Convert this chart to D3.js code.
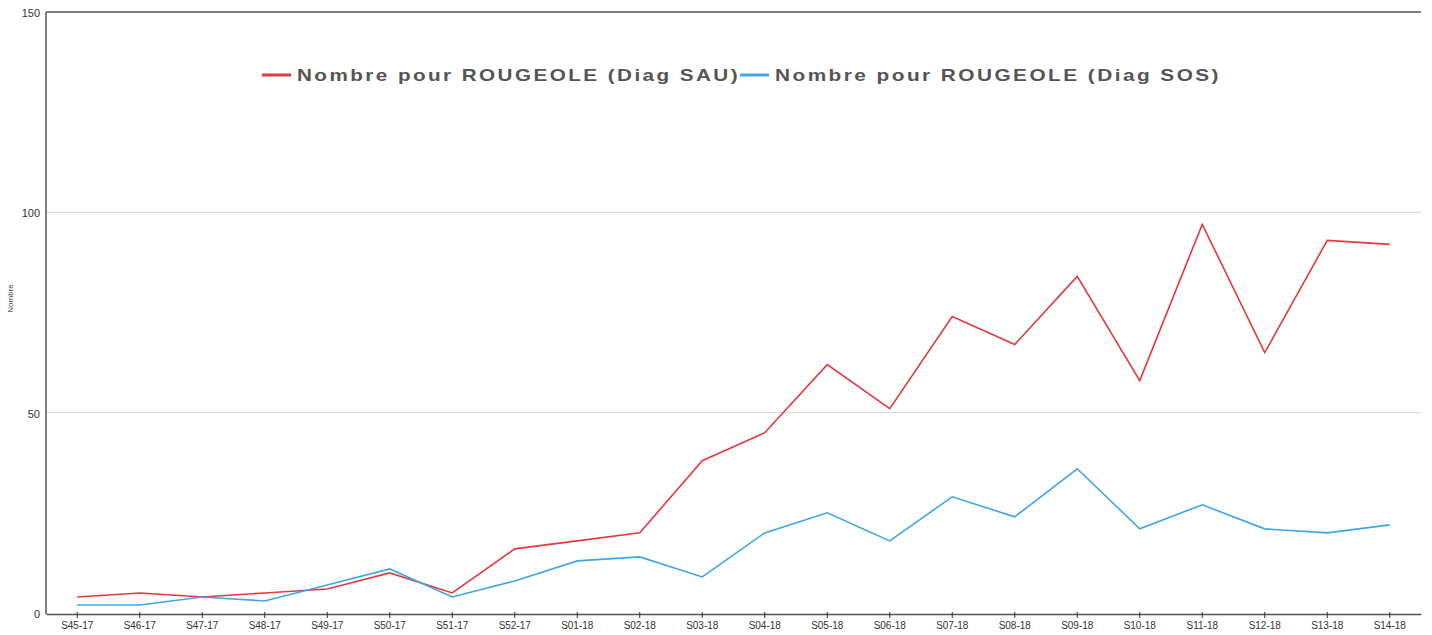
<!DOCTYPE html>
<html>
<head>
<meta charset="utf-8">
<script src="https://cdn.jsdelivr.net/npm/d3@7"></script>
<style>
  body { margin: 0; background: #fff; }
  svg { display: block; font-family: "Liberation Sans", Arial, sans-serif; }
</style>
</head>
<body>
<svg id="mychart" width="1432" height="635"></svg>
<script>
// weeks on the x axis
const weeks = ["S45-17", "S46-17", "S47-17", "S48-17", "S49-17", "S50-17", "S51-17", "S52-17",
  "S01-18", "S02-18", "S03-18", "S04-18", "S05-18", "S06-18", "S07-18", "S08-18",
  "S09-18", "S10-18", "S11-18", "S12-18", "S13-18", "S14-18"];
// Diag SAU (red)
const sau = [4, 5, 4, 5, 6, 10, 5, 16, 18, 20, 38, 45, 62, 51, 74, 67, 84, 58, 97, 65, 93, 92];
// Diag SOS (blue)
const sos = [2, 2, 4, 3, 7, 11, 4, 8, 13, 14, 9, 20, 25, 18, 29, 24, 36, 21, 27, 21, 20, 22];
const yTicks = [0, 50, 100, 150];
const seriesNames = ["Nombre pour ROUGEOLE (Diag SAU)", "Nombre pour ROUGEOLE (Diag SOS)"];
const colors = ["#e0393e", "#3fa6e6"];

const margin = { top: 12, right: 11, bottom: 22, left: 46 },
  width = 1432, height = 635,
  innerWidth = width - margin.left - margin.right,
  innerHeight = height - margin.top - margin.bottom;

const svg = d3.select("#mychart");
const g = svg.append("g").attr("transform", `translate(${margin.left},${margin.top})`);

const xScale = d3.scaleBand().domain(weeks).range([0, innerWidth]);
const yScale = d3.scaleLinear().domain([0, 150]).range([innerHeight, 0]);

// gridlines
g.selectAll(".grid")
  .data(yTicks.filter((t) => t > 0 && t < 150))
  .join("line")
  .attr("x1", 0).attr("x2", innerWidth)
  .attr("y1", (d) => yScale(d)).attr("y2", (d) => yScale(d))
  .attr("stroke", "#d6d6d6").attr("stroke-width", 1);

// top border
g.append("line")
  .attr("x1", 0).attr("x2", innerWidth)
  .attr("y1", yScale(150)).attr("y2", yScale(150))
  .attr("stroke", "#555").attr("stroke-width", 1.5);

// y labels
g.selectAll(".ylab")
  .data(yTicks)
  .join("text")
  .attr("x", -6)
  .attr("y", (d) => yScale(d) + 5)
  .attr("text-anchor", "end")
  .attr("font-size", 11)
  .attr("fill", "#333")
  .text((d) => d);

// y title
g.append("text")
  .attr("transform", `translate(-33,${innerHeight / 2 - 14}) rotate(-90)`)
  .attr("text-anchor", "middle")
  .attr("font-size", 8)
  .attr("fill", "#444")
  .text("Nombre");

// left axis line
g.append("line")
  .attr("x1", 0).attr("x2", 0)
  .attr("y1", 0).attr("y2", innerHeight + 1)
  .attr("stroke", "#555").attr("stroke-width", 1.5);

// x axis
const xAxis = g.append("g")
  .attr("transform", `translate(0,${innerHeight + 1})`)
  .call(d3.axisBottom(xScale).tickSize(4).tickSizeOuter(0).tickPadding(4));
xAxis.select(".domain").attr("stroke", "#555").attr("stroke-width", 1.5);
xAxis.selectAll(".tick line").attr("stroke", "#333").attr("y1", -2);
xAxis.selectAll(".tick text")
  .attr("font-size", 10)
  .attr("font-family", "Liberation Sans, Arial, sans-serif")
  .attr("fill", "#333");

// lines
const line = d3.line()
  .x((d, i) => xScale(weeks[i]) + xScale.bandwidth() / 2)
  .y((d) => yScale(d));

g.selectAll(".series")
  .data([sau, sos])
  .join("path")
  .attr("fill", "none")
  .attr("stroke", (d, i) => colors[i])
  .attr("stroke-width", 1.6)
  .attr("stroke-linejoin", "miter")
  .attr("d", line);

// legend
const legendX = [262, 740];
const legend = svg.selectAll(".legend")
  .data(seriesNames)
  .join("g")
  .attr("transform", (d, i) => `translate(${legendX[i]},75)`);
legend.append("line")
  .attr("x1", 0).attr("x2", 29)
  .attr("stroke", (d, i) => colors[i])
  .attr("stroke-width", 3);
legend.append("text")
  .attr("x", 35)
  .attr("y", 6)
  .attr("font-size", 17)
  .attr("font-weight", "bold")
  .attr("letter-spacing", 2)
  .attr("fill", "#555")
  .attr("textLength", (d, i) => (i === 0 ? 443 : 446))
  .attr("lengthAdjust", "spacingAndGlyphs")
  .text((d) => d);
</script>
</body>
</html>
